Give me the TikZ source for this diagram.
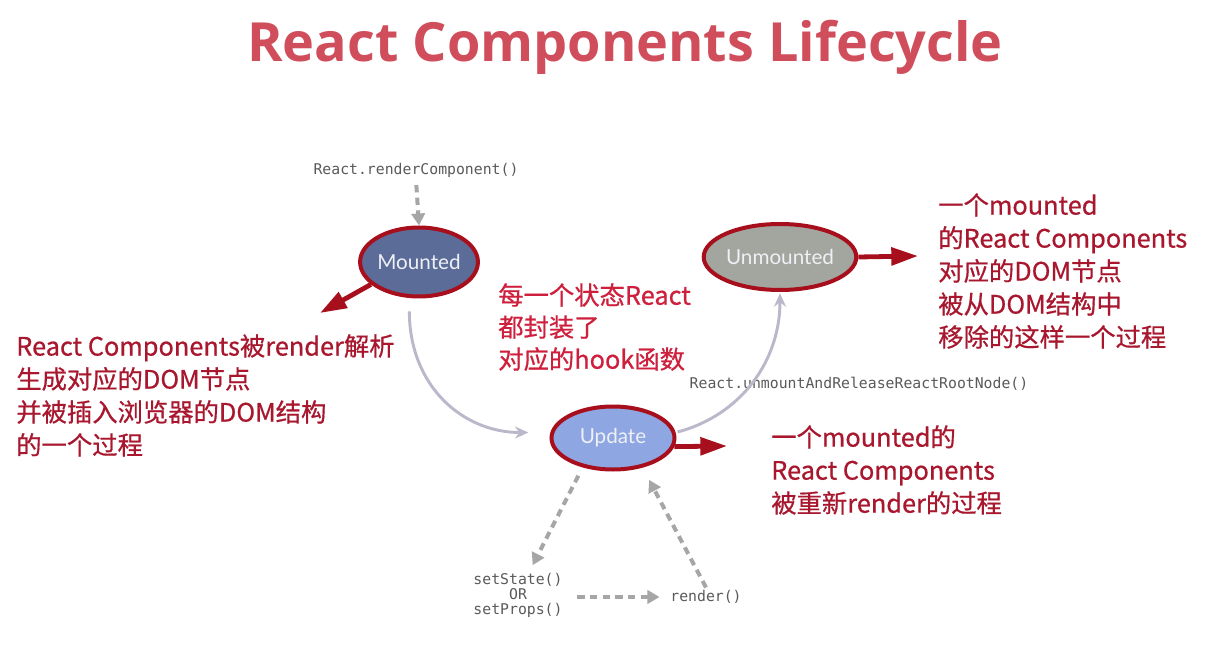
\documentclass[tikz,border=0pt]{standalone}
\usepackage{fontspec}
\setmainfont{Noto Sans CJK SC}
\newfontfamily\titlefont{Open Sans}
\newfontfamily\cjk[FakeBold=0.6]{Noto Sans CJK SC}
\newfontfamily\codefont{DejaVu Sans Mono}
\newfontfamily\statefont{Lato}
\usetikzlibrary{shapes.geometric,arrows.meta}
\definecolor{titlered}{HTML}{D04E5C}
\definecolor{darkred}{HTML}{A8172E}
\definecolor{midred}{HTML}{CE1F3C}
\definecolor{arrowred}{HTML}{A80F1C}
\definecolor{mountfill}{HTML}{5B6C98}
\definecolor{unmountfill}{HTML}{A3A59F}
\definecolor{updatefill}{HTML}{8EA7E2}
\definecolor{dashgray}{HTML}{A6A6A6}
\definecolor{curvegray}{HTML}{B9B9CB}
\definecolor{codegray}{HTML}{5A5A5A}
\definecolor{statetext}{HTML}{EEF0F5}
\begin{document}
\begin{tikzpicture}[x=0.75pt,y=-0.75pt,
  state/.style={ellipse, draw=arrowred, line width=3pt, inner sep=0pt,
    font=\statefont\fontsize{15.5}{18}\selectfont, text=statetext},
  bigarrow/.style={draw=arrowred, line width=3.6pt, -{Triangle[length=20pt,width=13pt]}},
  dasharrow/.style={draw=dashgray, line width=3pt, dash pattern=on 5.5pt off 4pt,
    -{Triangle[length=9pt,width=10pt]}},
  curvearrow/.style={draw=curvegray, line width=2.2pt, -{Stealth[length=10pt,width=9pt]}},
  code/.style={font=\codefont\fontsize{11.1}{11.25}\selectfont, text=codegray, inner sep=2pt},
  redtext/.style={font=\cjk\fontsize{19}{24.75}\selectfont, text=darkred, align=left,
    anchor=north west, inner sep=0pt},
]
\fill[white] (0,0) rectangle (1216,648);
\useasboundingbox (0,0) rectangle (1216,648);

\node[font=\titlefont\bfseries\fontsize{40.5}{46}\selectfont, text=titlered] (title) at (625,47) {React Components Lifecycle};

\node[code] (rc) at (416,170) {React.renderComponent()};
\node[code] (unmountcall) at (859,384) {React.unmountAndReleaseReactRootNode()};
\node[code, align=center] (setstate) at (518,595) {setState()\\OR\\setProps()};
\node[code] (render) at (706,597) {render()};

\node[state, fill=mountfill, minimum width=85.5pt, minimum height=51.75pt] (mounted) at (419,262) {Mounted};
\node[state, fill=unmountfill, minimum width=112.5pt, minimum height=49.5pt] (unmounted) at (780,257) {Unmounted};
\node[state, fill=updatefill, minimum width=92.25pt, minimum height=47.25pt] (update) at (613,438) {Update};

\node[redtext] (leftnote) at (16,334) {React Components被render解析\\生成对应的DOM节点\\并被插入浏览器的DOM结构\\的一个过程};
\node[redtext, text=midred, font=\cjk\fontsize{19}{24}\selectfont] (midnote) at (498,283) {每一个状态React\\都封装了\\对应的hook函数};
\node[redtext] (unmountnote) at (938,193) {一个mounted\\的React Components\\对应的DOM节点\\被从DOM结构中\\移除的这样一个过程};
\node[redtext] (updatenote) at (771,425) {一个mounted的\\React Components\\被重新render的过程};

\coordinate (mtip) at (320,313);
\coordinate (utip) at (918,256);
\coordinate (uptip) at (727,446);
\draw[bigarrow] (mounted.205) -- (mtip);
\draw[bigarrow] (unmounted.east) -- (utip);
\draw[bigarrow] (update.-8) -- (uptip);

\draw[dasharrow, shorten <=3.75pt] (rc.south) -- (mounted.north);
\draw[dasharrow, shorten <=7pt, shorten >=4pt] (update.224) -- (setstate.64);
\draw[dasharrow, shorten <=9pt, shorten >=6pt] (setstate.east |- render.west) -- (render.west);
\draw[dasharrow, shorten >=10.4pt] (render.north) -- (update.-45);

\draw[curvearrow, shorten <=10pt, shorten >=16.5pt] (mounted.255) to[out=-90,in=180,looseness=1.15] (update.175);
\draw[curvearrow, shorten <=1.5pt, shorten >=1pt] (update.5) to[out=15,in=-90] (unmounted.south);
\end{tikzpicture}
\end{document}
